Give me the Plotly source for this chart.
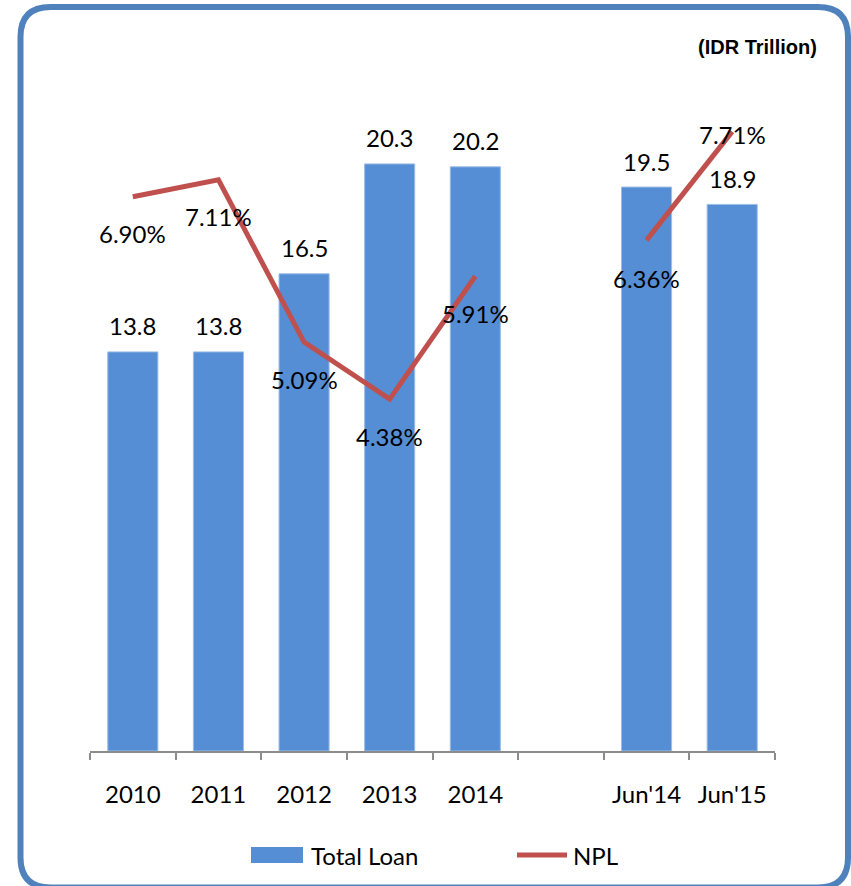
import plotly.graph_objects as go

# Chart data
categories = ["2010", "2011", "2012", "2013", "2014", " ", "Jun'14", "Jun'15"]
total_loan = [13.8, 13.8, 16.5, 20.3, 20.2, None, 19.5, 18.9]
npl = [6.90, 7.11, 5.09, 4.38, 5.91, None, 6.36, 7.71]
npl_label_shift = [-37, -37, -37, -37, -37, 0, -38, -3]

BAR_COLOR = "#558ED5"
LINE_COLOR = "#C0504D"
FRAME_COLOR = "#4F81BD"
FONT = "Lato"
FS = 24

W, H = 851, 886
ML, MR, MT, MB = 90, 76, 28, 135
PW, PH = W - ML - MR, H - MT - MB


def to_paper(px, py):
    """Convert page pixels to paper coordinates of the plot area."""
    return (px - ML) / PW, (H - MB - py) / PH


fig = go.Figure()

fig.add_trace(go.Bar(
    x=categories, y=total_loan, name="Total Loan",
    marker=dict(color=BAR_COLOR, line=dict(color="#9DBDE6", width=1)),
    width=0.585, showlegend=False, cliponaxis=False,
))

fig.add_trace(go.Scatter(
    x=categories, y=npl, name="NPL", yaxis="y2", mode="lines",
    line=dict(color=LINE_COLOR, width=5), connectgaps=False,
    showlegend=False, cliponaxis=False,
))

annotations = []
# Loan value labels above the bars (x given as category index)
for i, v in enumerate(total_loan):
    if v is None:
        continue
    annotations.append(dict(
        x=i, y=v, xref="x", yref="y", text=f"{v:.1f}", showarrow=False,
        yanchor="middle", yshift=26, font=dict(family=FONT, size=FS, color="#000"),
    ))
# NPL percentage labels
for i, (v, s) in enumerate(zip(npl, npl_label_shift)):
    if v is None:
        continue
    annotations.append(dict(
        x=i, y=v, xref="x", yref="y2", text=f"{v:.2f}%", showarrow=False,
        yanchor="middle", yshift=s, font=dict(family=FONT, size=FS, color="#000"),
    ))

# Unit note
ux, uy = to_paper(819, 47)
annotations.append(dict(
    x=ux, y=uy, xref="paper", yref="paper", text="<b>(IDR Trillion)</b>",
    showarrow=False, xanchor="right", yanchor="middle",
    font=dict(family="Liberation Sans", size=20, color="#000"),
))

# Legend entries
lx, ly = to_paper(309, 855)
annotations.append(dict(
    x=lx, y=ly, xref="paper", yref="paper", text="Total Loan", showarrow=False,
    xanchor="left", yanchor="middle", font=dict(family=FONT, size=FS, color="#000"),
))
nx, ny = to_paper(571, 855)
annotations.append(dict(
    x=nx, y=ny, xref="paper", yref="paper", text="NPL", showarrow=False,
    xanchor="left", yanchor="middle", font=dict(family=FONT, size=FS, color="#000"),
))

shapes = []
# legend swatches
x0, y0 = to_paper(251, 863)
x1, y1 = to_paper(303, 847)
shapes.append(dict(type="rect", xref="paper", yref="paper", x0=x0, y0=y0, x1=x1, y1=y1,
                   fillcolor=BAR_COLOR, line=dict(width=0)))
x0, y0 = to_paper(517, 855)
x1, y1 = to_paper(567, 855)
shapes.append(dict(type="line", xref="paper", yref="paper", x0=x0, y0=y0, x1=x1, y1=y1,
                   line=dict(color=LINE_COLOR, width=5)))

# Rounded frame around the whole chart
L, T, R, B, r = 20.5, 7, 848, 887.5, 30


def P(px, py):
    x, y = to_paper(px, py)
    return f"{x:.5f},{y:.5f}"


path = (
    f"M {P(L + r, T)} L {P(R - r, T)} Q {P(R, T)} {P(R, T + r)} "
    f"L {P(R, B - r)} Q {P(R, B)} {P(R - r, B)} "
    f"L {P(L + r, B)} Q {P(L, B)} {P(L, B - r)} "
    f"L {P(L, T + r)} Q {P(L, T)} {P(L + r, T)} Z"
)
shapes.append(dict(type="path", xref="paper", yref="paper", path=path,
                   line=dict(color=FRAME_COLOR, width=6), fillcolor="rgba(0,0,0,0)"))

fig.update_layout(
    width=W, height=H,
    margin=dict(l=ML, r=MR, t=MT, b=MB, pad=0),
    paper_bgcolor="white", plot_bgcolor="white",
    xaxis=dict(
        type="category", categoryorder="array", categoryarray=categories,
        range=[-0.5, len(categories) - 0.5],
        showline=True, linecolor="#8C8C8C", linewidth=2,
        ticks="outside", tickson="boundaries", ticklen=7, tickcolor="#8C8C8C", tickwidth=2,
        tickfont=dict(family=FONT, size=FS, color="#000"),
        ticklabelstandoff=21,
        showgrid=False, zeroline=False,
    ),
    yaxis=dict(range=[0, 25], visible=False, showgrid=False, zeroline=False),
    yaxis2=dict(range=[0, 9], overlaying="y", side="right", visible=False,
                showgrid=False, zeroline=False),
    annotations=annotations,
    shapes=shapes,
)

fig.write_html("out.html")
